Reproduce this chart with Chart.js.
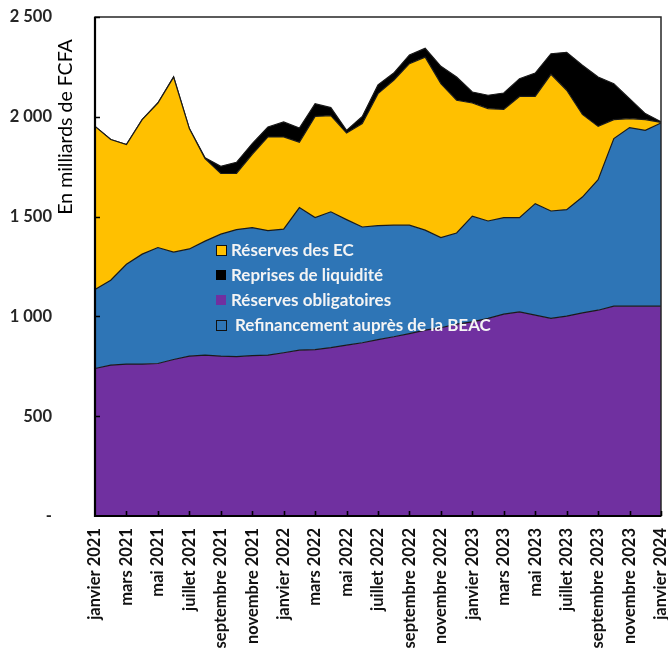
<!DOCTYPE html>
<html>
<head>
<meta charset="utf-8">
<script src="https://cdn.jsdelivr.net/npm/chart.js@4/dist/chart.umd.min.js"></script>
<style>
  html, body { margin: 0; padding: 0; background: #ffffff; }
  #wrap { width: 668px; height: 655px; }
</style>
</head>
<body>
<div id="wrap"><canvas id="c" width="668" height="655"></canvas></div>
<script>
// Mois (janvier 2021 – janvier 2024)
const mois = [
  'janvier 2021', 'février 2021', 'mars 2021', 'avril 2021', 'mai 2021', 'juin 2021',
  'juillet 2021', 'août 2021', 'septembre 2021', 'octobre 2021', 'novembre 2021', 'décembre 2021',
  'janvier 2022', 'février 2022', 'mars 2022', 'avril 2022', 'mai 2022', 'juin 2022',
  'juillet 2022', 'août 2022', 'septembre 2022', 'octobre 2022', 'novembre 2022', 'décembre 2022',
  'janvier 2023', 'février 2023', 'mars 2023', 'avril 2023', 'mai 2023', 'juin 2023',
  'juillet 2023', 'août 2023', 'septembre 2023', 'octobre 2023', 'novembre 2023', 'décembre 2023',
  'janvier 2024'
];

// Encours en milliards de FCFA
const reservesObligatoires = [
  739, 756, 761, 761, 764, 784, 801, 806, 801, 798, 803, 806,
  818, 831, 834, 844, 856, 868, 884, 898, 914, 931, 943, 961,
  973, 990, 1011, 1023, 1006, 990, 1001, 1018, 1031, 1051, 1051, 1051,
  1051
];
const refinancementBEAC = [
  396, 425, 500, 551, 581, 538, 537, 571, 611, 637, 642, 624,
  619, 714, 661, 680, 629, 580, 571, 559, 543, 501, 452, 457,
  529, 488, 484, 472, 559, 538, 534, 580, 654, 840, 895, 881,
  918
];
const reservesEC = [
  817, 705, 600, 674, 724, 877, 603, 414, 304, 282, 367, 469,
  462, 327, 507, 482, 434, 518, 661, 726, 809, 867, 771, 665,
  567, 563, 542, 607, 537, 685, 598, 414, 267, 95, 45, 54,
  3
];
const reprisesLiquidite = [
  0, 0, 0, 0, 0, 0, 0, 4, 36, 55, 54, 50,
  75, 72, 64, 40, 13, 36, 44, 36, 44, 44, 87, 116,
  55, 67, 82, 89, 117, 103, 190, 246, 247, 180, 100, 30,
  3
];

// Graduations de l'axe vertical
const yMin = 0, yMax = 2500, yPas = 500;

const FONT = 'Lato, "Open Sans", sans-serif';

function formatMilliers(v) {
  if (v === 0) return '-';
  return String(v).replace(/\B(?=(\d{3})+(?!\d))/g, ' ');
}

// Cadre, graduations intérieures, titre d'axe et légende dans la zone de tracé
const decor = {
  id: 'decor',
  afterDraw(chart) {
    const { ctx, chartArea: a, scales } = chart;
    const x = scales.x, y = scales.y;
    ctx.save();

    // cadre
    ctx.strokeStyle = '#262626';
    ctx.lineWidth = 1.5;
    ctx.strokeRect(a.left, a.top, a.right - a.left, a.bottom - a.top);
    ctx.strokeStyle = '#000';
    ctx.lineWidth = 2.2;
    ctx.beginPath();
    ctx.moveTo(a.left, a.top);
    ctx.lineTo(a.left, a.bottom);
    ctx.lineTo(a.right, a.bottom);
    ctx.stroke();

    // graduations vers l'intérieur
    ctx.lineWidth = 1.6;
    ctx.beginPath();
    for (let v = yMin + yPas; v <= yMax; v += yPas) {
      const py = Math.round(y.getPixelForValue(v)) + 0.5;
      ctx.moveTo(a.left, py);
      ctx.lineTo(a.left + 5, py);
    }
    for (let i = 2; i < mois.length; i += 2) {
      const px = Math.round(x.getPixelForValue(i)) + 0.5;
      ctx.moveTo(px, a.bottom);
      ctx.lineTo(px, a.bottom - 5);
    }
    ctx.stroke();

    // titre de l'axe vertical
    ctx.save();
    ctx.translate(66, a.top + 110);
    ctx.rotate(-Math.PI / 2);
    ctx.fillStyle = '#000';
    ctx.font = '19.5px ' + FONT;
    ctx.textAlign = 'center';
    ctx.textBaseline = 'middle';
    ctx.fillText('En milliards de FCFA', 0, 0);
    ctx.restore();

    // légende
    const ds = chart.data.datasets;
    const entries = [
      { d: ds[2], outline: true, dx: 0 },
      { d: ds[3], outline: false, dx: 0 },
      { d: ds[0], outline: false, dx: 0 },
      { d: ds[1], outline: true, dx: 4 }
    ];
    const lx = a.left + 121, ly0 = a.top + 233;
    ctx.font = 'bold 17px ' + FONT;
    ctx.textBaseline = 'middle';
    ctx.textAlign = 'left';
    entries.forEach((e, k) => {
      const cy = ly0 + k * 25;
      ctx.fillStyle = e.d.backgroundColor;
      ctx.fillRect(lx, cy - 5, 10, 10);
      if (e.outline) {
        ctx.strokeStyle = '#111';
        ctx.lineWidth = 1;
        ctx.strokeRect(lx + 0.5, cy - 4.5, 10, 10);
      }
      ctx.fillStyle = '#f4f4f4';
      ctx.fillText(e.d.label, lx + 15 + e.dx, cy + 1);
    });
    ctx.restore();
  }
};

const serie = (label, data, color, fill) => ({
  label, data,
  backgroundColor: color,
  borderColor: '#1a1a1a',
  borderWidth: 1.2,
  fill,
  pointRadius: 0,
  pointHoverRadius: 0,
  tension: 0
});

new Chart(document.getElementById('c'), {
  type: 'line',
  data: {
    labels: mois,
    datasets: [
      serie('Réserves obligatoires', reservesObligatoires, '#7030A0', 'origin'),
      serie('Refinancement auprès de la BEAC', refinancementBEAC, '#2E75B6', '-1'),
      serie('Réserves des EC', reservesEC, '#FFC000', '-1'),
      serie('Reprises de liquidité', reprisesLiquidite, '#000000', '-1')
    ]
  },
  options: {
    responsive: false,
    animation: false,
    devicePixelRatio: 1,
    layout: { padding: { top: 17, right: 7, left: 0, bottom: 0 } },
    plugins: {
      legend: { display: false },
      tooltip: { enabled: false }
    },
    scales: {
      x: {
        type: 'category',
        offset: false,
        grid: { display: false, drawTicks: false },
        border: { display: false },
        ticks: {
          autoSkip: false,
          minRotation: 90,
          maxRotation: 90,
          padding: 12,
          color: '#111',
          font: { family: FONT, size: 16.5, weight: 'bold' },
          callback(v, i) { return i % 2 === 0 ? mois[i] : null; }
        },
        afterFit(s) { s.height = 139; s.paddingRight = 7; s.paddingLeft = 0; }
      },
      y: {
        stacked: true,
        min: yMin,
        max: yMax,
        grid: { display: false, drawTicks: false },
        border: { display: false },
        ticks: {
          stepSize: yPas,
          padding: 43,
          color: '#262626',
          font: { family: FONT, size: 16.5, weight: 'bold' },
          callback: (v) => formatMilliers(v)
        },
        afterFit(s) { s.width = 95; s.paddingTop = 0; s.paddingBottom = 0; }
      }
    }
  },
  plugins: [decor]
});
</script>
</body>
</html>
